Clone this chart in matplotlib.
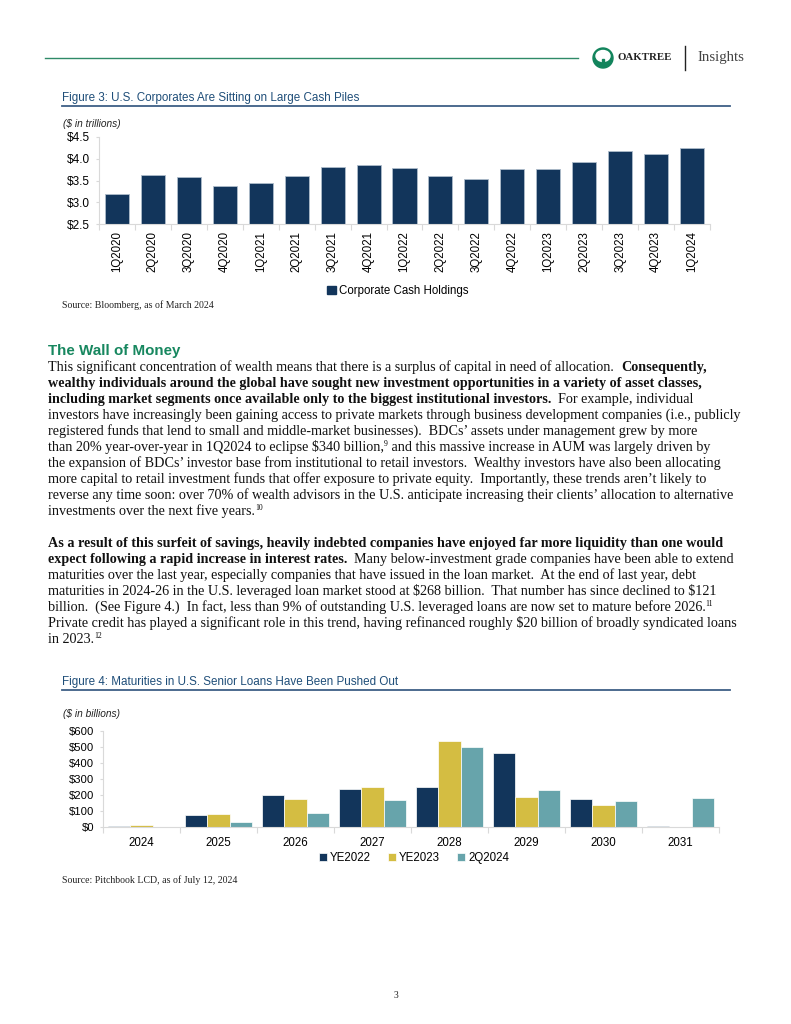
import matplotlib
matplotlib.use("Agg")
import matplotlib.pyplot as plt
from matplotlib.patches import Circle, Ellipse, Rectangle
from matplotlib.lines import Line2D
import numpy as np

plt.rcParams["text.parse_math"] = False

W, H = 791, 1024

# Figure 3 data ($ trillions)
quarters = ["1Q2020", "2Q2020", "3Q2020", "4Q2020", "1Q2021", "2Q2021", "3Q2021",
            "4Q2021", "1Q2022", "2Q2022", "3Q2022", "4Q2022", "1Q2023", "2Q2023",
            "3Q2023", "4Q2023", "1Q2024"]
cash_holdings = [3.18, 3.63, 3.57, 3.38, 3.45, 3.60, 3.80, 3.86, 3.78, 3.60, 3.54,
                 3.77, 3.77, 3.93, 4.18, 4.12, 4.25]

# Figure 4 data ($ billions)
years = ["2024", "2025", "2026", "2027", "2028", "2029", "2030", "2031"]
ye2022 = [8, 75, 198, 235, 248, 465, 177, 4]
ye2023 = [10, 81, 175, 252, 537, 190, 135, 2]
q2_2024 = [1, 31, 85, 171, 502, 231, 165, 179]
series_names = ["YE2022", "YE2023", "2Q2024"]

NAVY = "#12355b"
GOLD = "#d4bd42"
TEAL = "#67a4ab"
TITLE_BLUE = "#1f4e79"
RULE_BLUE = "#3e5f86"
GREEN = "#17875f"
AXIS_GREY = "#d9d9d9"

SANS = "Liberation Sans"
SERIF = "Liberation Serif"

fig = plt.figure(figsize=(W / 100, H / 100), dpi=100)
renderer = fig.canvas.get_renderer()


def fx(x):
    return x / W


def fy(y):
    return 1 - y / H


def px_axes(left, top, right, bottom):
    return fig.add_axes([fx(left), fy(bottom), (right - left) / W, (bottom - top) / H])


def hline(x0, x1, y, color, lw):
    fig.add_artist(Line2D([fx(x0), fx(x1)], [fy(y), fy(y)], color=color, lw=lw,
                          transform=fig.transFigure))


def style_axis(ax, n):
    for s in ["top", "right"]:
        ax.spines[s].set_visible(False)
    for s in ["left", "bottom"]:
        ax.spines[s].set_color(AXIS_GREY)
        ax.spines[s].set_linewidth(0.8)
    ax.set_xlim(-0.5, n - 0.5)
    ax.set_xticks(np.arange(n))
    ax.set_xticks(np.arange(n + 1) - 0.5, minor=True)
    ax.tick_params(axis="x", which="major", length=0)
    ax.tick_params(axis="x", which="minor", length=4, color=AXIS_GREY, width=0.8)
    ax.tick_params(axis="y", length=2.5, color=AXIS_GREY, width=0.8, labelsize=8.5, pad=4)


# ---- header ----
hline(45, 578, 58, "#2f8a68", 1.0)
fig.add_artist(Circle((603, H - 58), 10, transform=None, color="#12845c"))
fig.add_artist(Ellipse((603, H - 56), 14, 11, transform=None, color="white"))
fig.add_artist(Rectangle((602, H - 66), 2, 7, transform=None, color="#12845c"))
fig.text(fx(618), fy(58), "OAKTREE", fontsize=7.8, family=SERIF, weight="bold",
         color="#222222", va="center")
fig.add_artist(Line2D([fx(685), fx(685)], [fy(46), fy(70)], color="#222222", lw=1.0,
                      transform=fig.transFigure))
fig.text(fx(698), fy(58), "Insights", fontsize=10.8, family=SERIF, color="#444444",
         va="center")

# ---- Figure 3 ----
fig.text(fx(62), fy(98), "Figure 3: U.S. Corporates Are Sitting on Large Cash Piles",
         fontsize=8.4, family=SANS, color=TITLE_BLUE, va="center")
hline(62, 730, 106, RULE_BLUE, 1.3)
fig.text(fx(63), fy(124), "($ in trillions)", fontsize=7.3, family=SANS, style="italic",
         color="#222222", va="center")

ax3 = px_axes(99, 137, 710, 224)
x3 = np.arange(len(quarters))
ax3.bar(x3, cash_holdings, width=0.67, color=NAVY, edgecolor="#aebccb", linewidth=0.6)
ax3.set_ylim(2.5, 4.5)
style_axis(ax3, len(quarters))
ax3.set_yticks(np.arange(2.5, 4.51, 0.5))
ax3.set_yticklabels([f"${v:.1f}" for v in np.arange(2.5, 4.51, 0.5)], family=SANS)
ax3.set_xticklabels(quarters, rotation=90, family=SANS, fontsize=8.3)
ax3.tick_params(axis="x", which="major", pad=5)

fig.legend(handles=[Rectangle((0, 0), 1, 1, color=NAVY)], labels=["Corporate Cash Holdings"],
           loc="center", bbox_to_anchor=(fx(398), fy(291)), frameon=False,
           handlelength=0.7, handleheight=0.7, handletextpad=0.3,
           prop={"family": SANS, "size": 8.3})
fig.text(fx(62), fy(305), "Source: Bloomberg, as of March 2024", fontsize=7.1,
         family=SERIF, color="#222222", va="center")

# ---- body text ----
fig.text(fx(48), fy(351), "The Wall of Money", fontsize=10.9, family=SANS, weight="bold",
         color=GREEN, va="center")

BODY = 10.2


def draw_runs(x, y, runs):
    for text, style in runs:
        if style == "sup":
            t = fig.text(fx(x), fy(y - 5), text, fontsize=5.5, family=SERIF, va="baseline")
        else:
            t = fig.text(fx(x), fy(y), text, fontsize=BODY, family=SERIF,
                         weight="bold" if style == "b" else "normal", va="baseline",
                         color="#111111")
        x += t.get_window_extent(renderer=renderer).width


para_lines = [
    [("This significant concentration of wealth means that there is a surplus of capital in need of allocation.  ", "r"),
     ("Consequently,", "b")],
    [("wealthy individuals around the global have sought new investment opportunities in a variety of asset classes,", "b")],
    [("including market segments once available only to the biggest institutional investors.", "b"),
     ("  For example, individual", "r")],
    [("investors have increasingly been gaining access to private markets through business development companies (i.e., publicly", "r")],
    [("registered funds that lend to small and middle-market businesses).  BDCs\u2019 assets under management grew by more", "r")],
    [("than 20% year-over-year in 1Q2024 to eclipse $340 billion,", "r"), ("9", "sup"),
     (" and this massive increase in AUM was largely driven by", "r")],
    [("the expansion of BDCs\u2019 investor base from institutional to retail investors.  Wealthy investors have also been allocating", "r")],
    [("more capital to retail investment funds that offer exposure to private equity.  Importantly, these trends aren\u2019t likely to", "r")],
    [("reverse any time soon: over 70% of wealth advisors in the U.S. anticipate increasing their clients\u2019 allocation to alternative", "r")],
    [("investments over the next five years.", "r"), ("10", "sup")],
    None,
    [("As a result of this surfeit of savings, heavily indebted companies have enjoyed far more liquidity than one would", "b")],
    [("expect following a rapid increase in interest rates.", "b"),
     ("  Many below-investment grade companies have been able to extend", "r")],
    [("maturities over the last year, especially companies that have issued in the loan market.  At the end of last year, debt", "r")],
    [("maturities in 2024-26 in the U.S. leveraged loan market stood at $268 billion.  That number has since declined to $121", "r")],
    [("billion.  (See Figure 4.)  In fact, less than 9% of outstanding U.S. leveraged loans are now set to mature before 2026.", "r"),
     ("11", "sup")],
    [("Private credit has played a significant role in this trend, having refinanced roughly $20 billion of broadly syndicated loans", "r")],
    [("in 2023.", "r"), ("12", "sup")],
]

for i, runs in enumerate(para_lines):
    if runs is None:
        continue
    draw_runs(48, 371 + 16 * i, runs)

# ---- Figure 4 ----
fig.text(fx(62), fy(682), "Figure 4: Maturities in U.S. Senior Loans Have Been Pushed Out",
         fontsize=8.4, family=SANS, color=TITLE_BLUE, va="center")
hline(62, 730, 690, RULE_BLUE, 1.3)
fig.text(fx(63), fy(714), "($ in billions)", fontsize=7.3, family=SANS, style="italic",
         color="#222222", va="center")

ax4 = px_axes(103, 731, 719, 827)
x4 = np.arange(len(years))
bw = 0.286
for k, (vals, col) in enumerate(zip([ye2022, ye2023, q2_2024], [NAVY, GOLD, TEAL])):
    ax4.bar(x4 + (k - 1) * bw, vals, width=bw, color=col, edgecolor="white",
            linewidth=0.5, label=series_names[k])
ax4.set_ylim(0, 600)
style_axis(ax4, len(years))
ax4.set_yticks(np.arange(0, 601, 100))
ax4.set_yticklabels([f"${v}" for v in range(0, 601, 100)], family=SANS, fontsize=8.1)
ax4.set_xticklabels(years, family=SANS, fontsize=8.3)
ax4.tick_params(axis="x", which="major", pad=7)

h4, l4 = ax4.get_legend_handles_labels()
fig.legend(h4, l4, loc="center", bbox_to_anchor=(fx(414), fy(858)), ncol=3, frameon=False,
           handlelength=0.7, handleheight=0.7, handletextpad=0.25, columnspacing=1.5,
           prop={"family": SANS, "size": 8.3})
fig.text(fx(62), fy(880), "Source: Pitchbook LCD, as of July 12, 2024", fontsize=7.1,
         family=SERIF, color="#222222", va="center")

# page number
fig.text(fx(396), fy(996), "3", fontsize=7, family=SERIF, color="#222222",
         ha="center", va="center")

fig.savefig("out.png", dpi=100)
